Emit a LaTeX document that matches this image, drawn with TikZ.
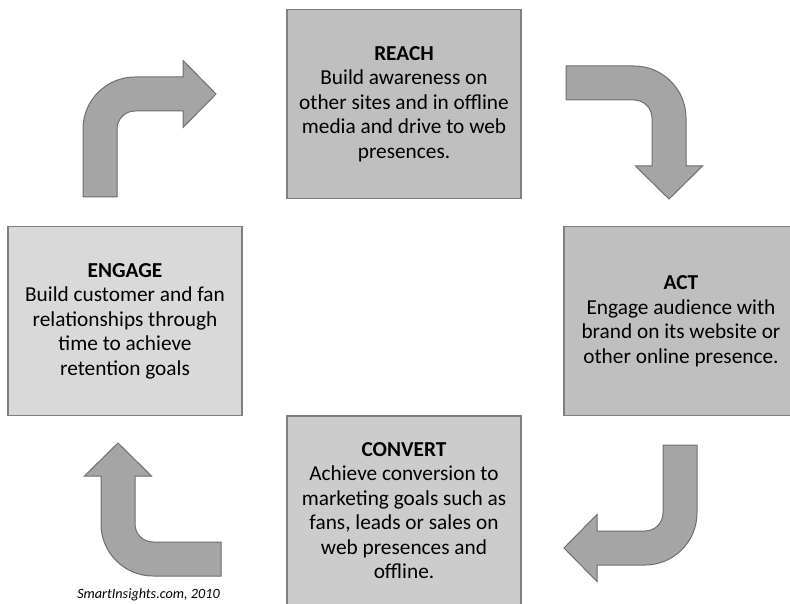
\documentclass[tikz,border=0pt]{standalone}
\usepackage{fontspec}
\setmainfont{Carlito}
\usetikzlibrary{shapes}
\definecolor{darkbox}{RGB}{191,191,191}
\definecolor{midbox}{RGB}{204,204,204}
\definecolor{lightbox}{RGB}{217,217,217}
\definecolor{boxline}{RGB}{127,127,127}
\definecolor{arrowfill}{RGB}{165,165,165}
\definecolor{arrowline}{RGB}{110,110,110}

\begin{document}
\begin{tikzpicture}[x=1pt,y=-1pt,
  stage/.style={shape=rectangle,draw=boxline,line width=1.5pt,align=center,inner sep=0pt,minimum width=234pt,minimum height=189pt,font=\fontsize{21.3}{24.5}\selectfont},
  turnarrow/.pic={\filldraw[fill=arrowfill,draw=arrowline,line width=1pt] (0,120) -- (0,52) .. controls (0,23.3) and (23.3,0) .. (52,0) -- (100,0) -- (100,-16.5) -- (133,17) -- (100,50.5) -- (100,34) -- (52,34) .. controls (42.1,34) and (34,42.1) .. (34,52) -- (34,120) -- cycle;}]
\useasboundingbox (0,0) rectangle (790,604);
\clip (0,0) rectangle (790,604);
\node[stage,fill=darkbox] (0) at (404,104) {\textbf{REACH}\\Build awareness on\\other sites and in offline\\media and drive to web\\presences.};
\node[stage,fill=darkbox] (1) at (681,321) {\textbf{ACT}\\Engage audience with\\brand on its website or\\other online presence.};
\node[stage,fill=midbox] (2) at (404,510.5) {\textbf{CONVERT}\\Achieve conversion to\\marketing goals such as\\fans, leads or sales on\\web presences and\\offline.};
\node[stage,fill=lightbox] (3) at (125,321) {\textbf{ENGAGE}\\Build customer and fan\\relationships through\\time to achieve\\retention goals};
\node[font=\fontsize{14.2}{16}\selectfont\itshape] (4) at (148.5,595) {SmartInsights.com, 2010};

\pic at (83,77) {turnarrow};
\pic[rotate=-90] at (686,66) {turnarrow};
\pic[rotate=180] at (697,565) {turnarrow};
\pic[rotate=90] at (101,576) {turnarrow};
\end{tikzpicture}
\end{document}
